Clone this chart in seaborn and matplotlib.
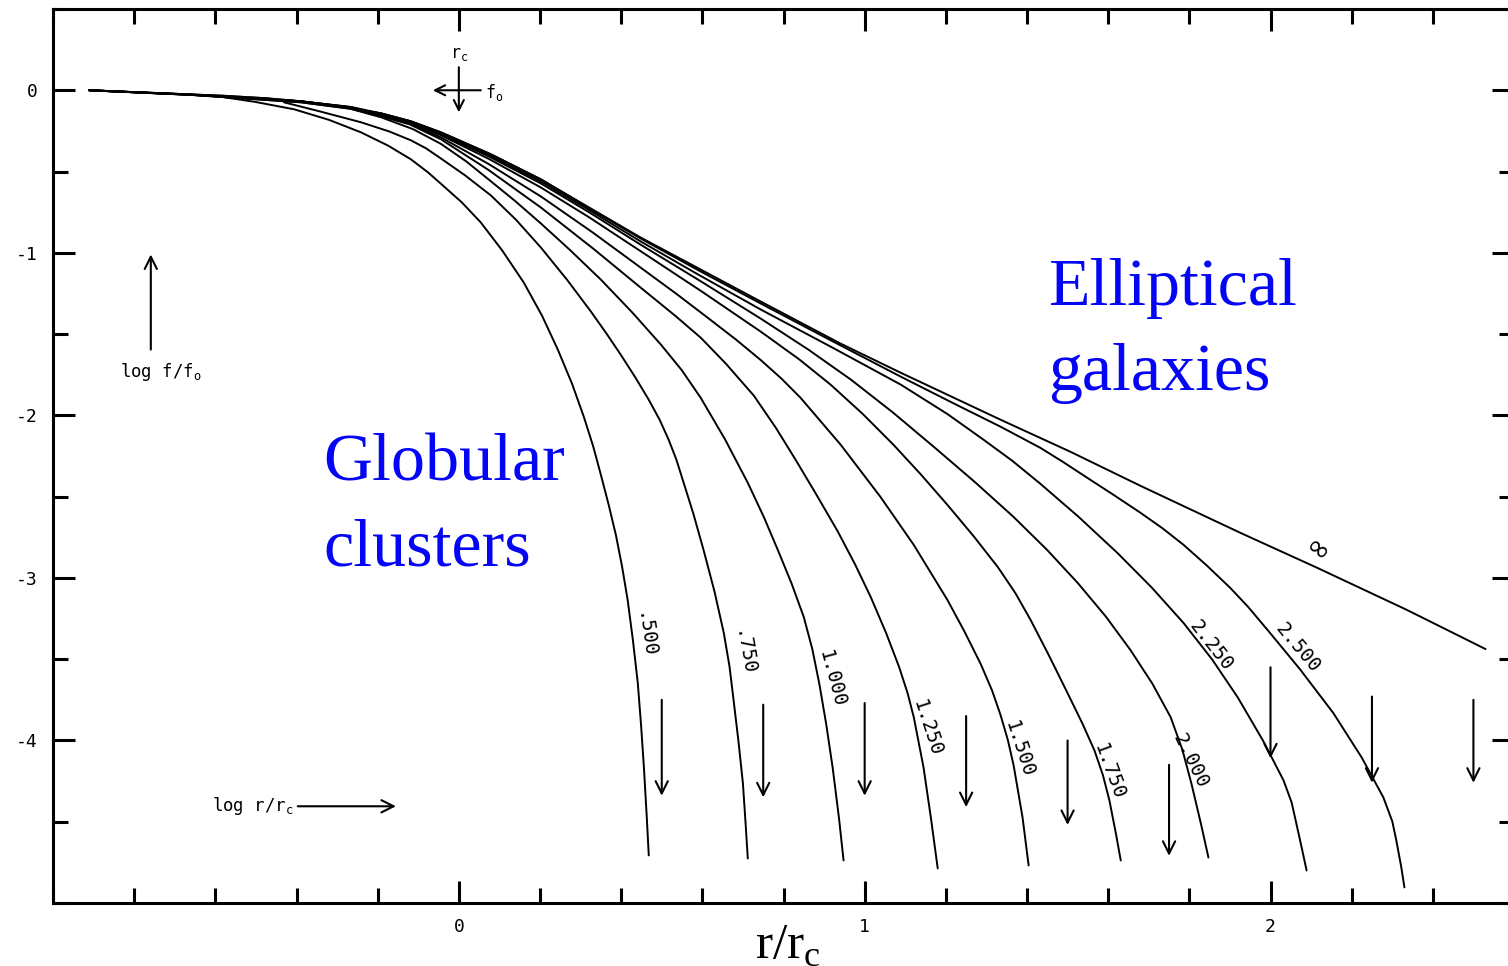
import matplotlib
matplotlib.use("Agg")
import matplotlib.pyplot as plt
import seaborn as sns
import pandas as pd
from matplotlib.ticker import FixedLocator, MultipleLocator

# ---------------- data ----------------
# log(r/rc) (x) and log(f/f0) (y) for each model, c = log(rt/rc)
X_INF = [-0.911, -0.579, -0.476, -0.389, -0.283, -0.192, -0.118, -0.044, 0.079, 0.202, 0.325,
         0.448, 0.596, 0.744, 0.941, 1.089, 1.335, 1.507, 1.680, 1.926, 2.116, 2.337, 2.530]
Y_INF = [0.0, -0.034, -0.049, -0.068, -0.104, -0.142, -0.191, -0.259, -0.394, -0.548, -0.727,
         -0.906, -1.103, -1.300, -1.559, -1.738, -2.027, -2.224, -2.434, -2.723, -2.939, -3.198,
         -3.438]

X_2500 = [-0.911, -0.579, -0.476, -0.389, -0.283, -0.192, -0.118, -0.044, 0.079, 0.202, 0.314,
          0.448, 0.590, 0.744, 0.920, 1.089, 1.227, 1.335, 1.433, 1.489, 1.549, 1.615, 1.680,
          1.734, 1.786, 1.844, 1.901, 1.944, 1.993, 2.072, 2.155, 2.225, 2.278, 2.300, 2.310,
          2.322, 2.330]
Y_2500 = [0.0, -0.034, -0.049, -0.068, -0.104, -0.142, -0.191, -0.259, -0.394, -0.548, -0.715,
          -0.912, -1.107, -1.312, -1.543, -1.762, -1.936, -2.070, -2.200, -2.287, -2.385, -2.492,
          -2.600, -2.695, -2.797, -2.926, -3.062, -3.176, -3.321, -3.560, -3.832, -4.106, -4.350,
          -4.497, -4.615, -4.776, -4.904]

X_2250 = [-0.911, -0.662, -0.389, -0.267, -0.192, -0.121, -0.044, 0.073, 0.202, 0.322, 0.448,
          0.590, 0.744, 0.922, 1.089, 1.204, 1.293, 1.364, 1.433, 1.527, 1.623, 1.708, 1.786,
          1.856, 1.919, 1.982, 2.032, 2.052, 2.062, 2.077, 2.089]
Y_2250 = [0.0, -0.026, -0.068, -0.102, -0.142, -0.190, -0.265, -0.398, -0.561, -0.738, -0.930,
          -1.134, -1.349, -1.585, -1.811, -1.992, -2.150, -2.280, -2.421, -2.624, -2.847, -3.061,
          -3.278, -3.501, -3.734, -4.003, -4.245, -4.381, -4.492, -4.661, -4.800]

X_2000 = [-0.911, -0.662, -0.389, -0.267, -0.192, -0.121, -0.044, 0.073, 0.202, 0.322, 0.448,
          0.598, 0.744, 0.861, 0.966, 1.070, 1.170, 1.271, 1.367, 1.450, 1.525, 1.594, 1.655,
          1.709, 1.754, 1.783, 1.805, 1.829, 1.847]
Y_2000 = [0.0, -0.027, -0.068, -0.105, -0.148, -0.196, -0.271, -0.406, -0.573, -0.752, -0.950,
          -1.178, -1.405, -1.595, -1.780, -1.983, -2.193, -2.409, -2.625, -2.829, -3.031, -3.237,
          -3.444, -3.651, -3.857, -4.058, -4.264, -4.517, -4.720]

X_1750 = [-0.911, -0.662, -0.389, -0.267, -0.192, -0.121, -0.044, 0.073, 0.202, 0.322, 0.448,
          0.601, 0.744, 0.839, 0.916, 0.996, 1.071, 1.139, 1.204, 1.269, 1.328, 1.371, 1.409,
          1.455, 1.500, 1.536, 1.566, 1.587, 1.603, 1.619, 1.631]
Y_1750 = [0.0, -0.027, -0.068, -0.104, -0.148, -0.197, -0.277, -0.421, -0.598, -0.783, -0.990,
          -1.242, -1.485, -1.656, -1.811, -1.993, -2.181, -2.365, -2.551, -2.745, -2.933, -3.092,
          -3.259, -3.482, -3.709, -3.893, -4.060, -4.213, -4.368, -4.572, -4.738]

X_1500 = [-0.911, -0.662, -0.389, -0.267, -0.192, -0.121, -0.044, 0.073, 0.202, 0.330, 0.448,
          0.538, 0.613, 0.683, 0.744, 0.795, 0.842, 0.941, 1.039, 1.121, 1.204, 1.247, 1.286,
          1.314, 1.335, 1.353, 1.367, 1.389, 1.404]
Y_1500 = [0.0, -0.028, -0.068, -0.107, -0.154, -0.205, -0.290, -0.453, -0.653, -0.875, -1.091,
          -1.256, -1.399, -1.534, -1.660, -1.774, -1.892, -2.181, -2.502, -2.797, -3.136, -3.335,
          -3.530, -3.693, -3.845, -3.999, -4.153, -4.473, -4.769]

X_1250 = [-0.911, -0.662, -0.389, -0.267, -0.192, -0.121, -0.044, 0.073, 0.202, 0.331, 0.448,
          0.534, 0.596, 0.658, 0.727, 0.781, 0.830, 0.879, 0.933, 0.976, 1.015, 1.053, 1.085,
          1.106, 1.121, 1.145, 1.163, 1.180]
Y_1250 = [0.0, -0.028, -0.074, -0.113, -0.160, -0.210, -0.302, -0.490, -0.721, -0.974, -1.214,
          -1.389, -1.522, -1.682, -1.879, -2.076, -2.274, -2.479, -2.711, -2.915, -3.118, -3.340,
          -3.549, -3.711, -3.857, -4.165, -4.473, -4.787]

X_1000 = [-0.911, -0.662, -0.389, -0.267, -0.192, -0.113, -0.044, 0.019, 0.079, 0.139, 0.202,
          0.274, 0.350, 0.427, 0.498, 0.549, 0.596, 0.656, 0.712, 0.752, 0.786, 0.820, 0.850,
          0.871, 0.888, 0.905, 0.921, 0.937, 0.948]
Y_1000 = [0.0, -0.028, -0.074, -0.114, -0.166, -0.239, -0.330, -0.439, -0.560, -0.682, -0.819,
          -0.983, -1.165, -1.366, -1.565, -1.721, -1.892, -2.148, -2.415, -2.628, -2.828, -3.035,
          -3.241, -3.438, -3.648, -3.896, -4.165, -4.484, -4.738]

X_0750 = [-0.431, -0.344, -0.241, -0.172, -0.118, -0.081, -0.044, 0.014, 0.079, 0.141, 0.202,
          0.267, 0.325, 0.365, 0.399, 0.435, 0.468, 0.495, 0.517, 0.536, 0.554, 0.578, 0.603,
          0.630, 0.653, 0.667, 0.677, 0.689, 0.700, 0.707, 0.712]
Y_0750 = [-0.074, -0.129, -0.197, -0.253, -0.308, -0.357, -0.420, -0.521, -0.647, -0.797, -0.967,
          -1.167, -1.360, -1.501, -1.627, -1.767, -1.904, -2.028, -2.150, -2.272, -2.415, -2.606,
          -2.828, -3.084, -3.340, -3.546, -3.752, -4.005, -4.264, -4.527, -4.726]

X_0500 = [-0.579, -0.503, -0.406, -0.320, -0.241, -0.174, -0.118, -0.076, -0.037, 0.007, 0.054,
          0.107, 0.160, 0.205, 0.244, 0.279, 0.308, 0.331, 0.350, 0.369, 0.387, 0.402, 0.416,
          0.429, 0.441, 0.449, 0.456, 0.463, 0.468]
Y_0500 = [-0.043, -0.071, -0.117, -0.182, -0.259, -0.341, -0.425, -0.505, -0.591, -0.689, -0.813,
          -0.986, -1.183, -1.387, -1.596, -1.806, -2.009, -2.190, -2.366, -2.548, -2.736, -2.927,
          -3.136, -3.385, -3.648, -3.905, -4.165, -4.468, -4.707]

CURVE_NAMES = ["inf", "2.500", "2.250", "2.000", "1.750", "1.500", "1.250", "1.000", ".750", ".500"]
CURVE_X = [X_INF, X_2500, X_2250, X_2000, X_1750, X_1500, X_1250, X_1000, X_0750, X_0500]
CURVE_Y = [Y_INF, Y_2500, Y_2250, Y_2000, Y_1750, Y_1500, Y_1250, Y_1000, Y_0750, Y_0500]

# curve labels: text, position, rotation
LABEL_TEXT = [".500", ".750", "1.000", "1.250", "1.500", "1.750", "2.000", "2.250", "2.500", "\u221e"]
LABEL_X = [0.456, 0.700, 0.919, 1.153, 1.379, 1.601, 1.803, 1.854, 2.066, 2.116]
LABEL_Y = [-3.352, -3.463, -3.623, -3.925, -4.054, -4.190, -4.128, -3.419, -3.431, -2.834]
LABEL_ROT = [-82, -80, -75, -72, -72, -70, -64, -52, -50, -38]

# tidal-radius arrows (log rt/rc = c)
TIDAL_X = [0.5, 0.75, 1.0, 1.25, 1.5, 1.75, 2.0, 2.25, 2.5]
TIDAL_TOP = [-3.75, -3.78, -3.77, -3.85, -4.00, -4.15, -3.55, -3.73, -3.75]
TIDAL_BOT = [-4.34, -4.35, -4.34, -4.41, -4.52, -4.71, -4.11, -4.26, -4.26]

X_TICKS = [0, 1, 2]
X_TICKLABELS = ["0", "1", "2"]
Y_TICKS = [0, -1, -2, -3, -4]
Y_TICKLABELS = ["0", "-1", "-2", "-3", "-4"]

# ---------------- figure ----------------
sns.set_theme(style="white")
plt.rcParams["font.family"] = ["DejaVu Sans Mono", "DejaVu Sans"]
plt.rcParams["axes.unicode_minus"] = False

rows = []
for name, xs, ys in zip(CURVE_NAMES, CURVE_X, CURVE_Y):
    for i, (xv, yv) in enumerate(zip(xs, ys)):
        rows.append({"curve": name, "order": i, "x": xv, "y": yv})
df = pd.DataFrame(rows)

fig = plt.figure(figsize=(15.08, 9.66), dpi=100)
fig.patch.set_facecolor("white")
ax = fig.add_axes([0.03515, 0.06522, 0.96883, 0.92547])
ax.set_facecolor("white")

sns.lineplot(data=df, x="x", y="y", units="curve", estimator=None, sort=False,
             color="black", linewidth=1.4, ax=ax, legend=False)
for ln in ax.lines:
    ln.set_solid_joinstyle("round")
    ln.set_solid_capstyle("round")

ax.set_xlim(-1.0, 2.6)
ax.set_ylim(-5.0, 0.5)
ax.set_xlabel("")
ax.set_ylabel("")

for sp in ax.spines.values():
    sp.set_visible(True)
    sp.set_color("black")
    sp.set_linewidth(2.2)

ax.xaxis.set_major_locator(FixedLocator(X_TICKS))
ax.set_xticklabels(X_TICKLABELS)
ax.xaxis.set_minor_locator(MultipleLocator(0.2))
ax.yaxis.set_major_locator(FixedLocator(Y_TICKS))
ax.set_yticklabels(Y_TICKLABELS)
ax.yaxis.set_minor_locator(MultipleLocator(0.5))
ax.tick_params(which="both", direction="in", top=True, right=True, bottom=True, left=True,
               color="black")
ax.tick_params(which="major", length=16, width=2.2, labelsize=13, pad=11, labelcolor="black")
ax.tick_params(which="minor", length=11, width=2.2)
ax.grid(False)

# curve labels
for t, xv, yv, r in zip(LABEL_TEXT, LABEL_X, LABEL_Y, LABEL_ROT):
    if t == "\u221e":
        ax.text(xv, yv, t, rotation=r, rotation_mode="anchor", ha="center", va="center",
                fontsize=21, color="black", family=["DejaVu Sans"])
    else:
        ax.text(xv, yv, t, rotation=r, rotation_mode="anchor", ha="center", va="center",
                fontsize=14, color="black")

# tidal arrows
for xv, yt, yb in zip(TIDAL_X, TIDAL_TOP, TIDAL_BOT):
    ax.annotate("", xy=(xv, yb), xytext=(xv, yt),
                arrowprops=dict(arrowstyle="->", lw=1.5, color="black",
                                shrinkA=0, shrinkB=0, mutation_scale=22))

# core radius / central density cross
ax.annotate("", xy=(0.0, -0.136), xytext=(0.0, 0.142),
            arrowprops=dict(arrowstyle="->", lw=1.5, color="black", shrinkA=0, shrinkB=0,
                            mutation_scale=18))
ax.annotate("", xy=(-0.064, 0.0), xytext=(0.054, 0.0),
            arrowprops=dict(arrowstyle="->", lw=1.5, color="black", shrinkA=0, shrinkB=0,
                            mutation_scale=18))
ax.text(0.0, 0.222, r"r$_\mathregular{c}$", ha="center", va="center", fontsize=12, color="black")
ax.text(0.064, -0.015, r"f$_\mathregular{o}$", ha="left", va="center", fontsize=12, color="black")

# axis-name annotations
ax.annotate("", xy=(-0.759, -1.010), xytext=(-0.759, -1.595),
            arrowprops=dict(arrowstyle="->", lw=1.5, color="black", shrinkA=0, shrinkB=0,
                            mutation_scale=22))
ax.text(-0.734, -1.731, r"log f/f$_\mathregular{o}$", ha="center", va="center", fontsize=12.5,
        color="black")
ax.text(-0.407, -4.405, r"log r/r$_\mathregular{c}$", ha="right", va="center", fontsize=12.5,
        color="black")
ax.annotate("", xy=(-0.155, -4.405), xytext=(-0.397, -4.405),
            arrowprops=dict(arrowstyle="->", lw=1.5, color="black", shrinkA=0, shrinkB=0,
                            mutation_scale=22))

# blue region labels
BLUE = "#0505F5"
serif = ["Liberation Serif", "DejaVu Serif"]
ax.text(1.453, -1.319, "Elliptical", ha="left", va="baseline", fontsize=49, color=BLUE,
        family=serif)
ax.text(1.453, -1.842, "galaxies", ha="left", va="baseline", fontsize=49, color=BLUE,
        family=serif)
ax.text(-0.333, -2.403, "Globular", ha="left", va="baseline", fontsize=49, color=BLUE,
        family=serif)
ax.text(-0.333, -2.921, "clusters", ha="left", va="baseline", fontsize=49, color=BLUE,
        family=serif)

# bottom axis title
fig.text(0.5007, 0.0083, r"r/r$_\mathregular{c}$", ha="left", va="baseline", fontsize=37,
         color="black", family=serif)

fig.savefig("out.png", dpi=100, facecolor="white")
